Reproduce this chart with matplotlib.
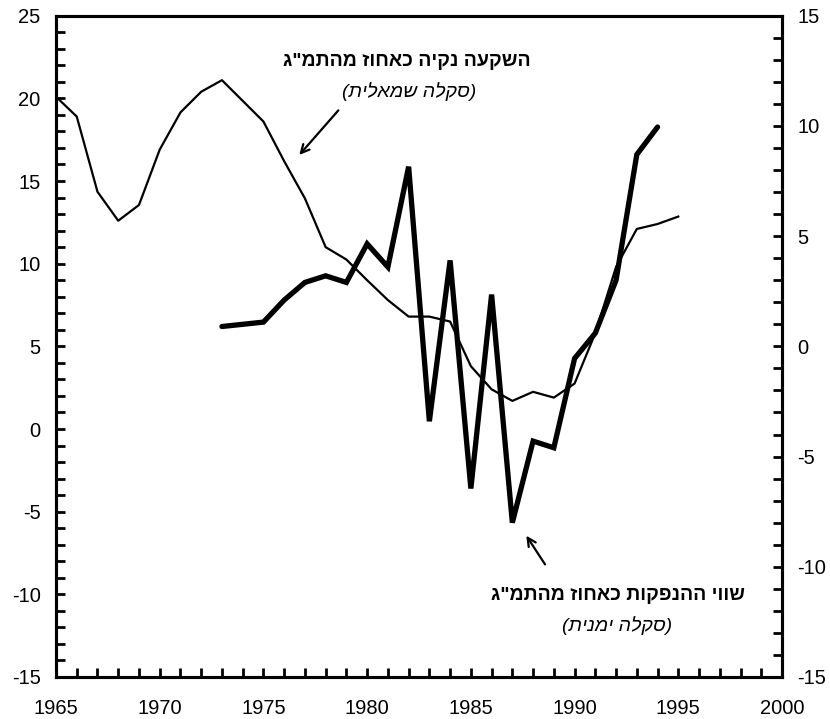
import matplotlib
matplotlib.use("Agg")
import matplotlib.pyplot as plt
from matplotlib.ticker import MultipleLocator

plt.rcParams['font.family'] = ['Liberation Sans', 'DejaVu Sans']
plt.rcParams['axes.unicode_minus'] = False

# Net investment as % of GDP (left scale)
inv_years = list(range(1965, 1996))
inv_values = [20.1, 18.9, 14.35, 12.6, 13.55, 16.9, 19.15, 20.4, 21.1, 19.85,
              18.6, 16.2, 13.95, 11.0, 10.25, 9.0, 7.8, 6.8, 6.8, 6.5,
              3.8, 2.4, 1.7, 2.25, 1.9, 2.75, 5.8, 9.8, 12.1, 12.4, 12.85]

# Value of issues as % of GDP (right scale)
iss_years = list(range(1973, 1995))
iss_values = [0.9, 1.0, 1.1, 2.1, 2.9, 3.2, 2.9, 4.65, 3.6, 8.15,
              -3.4, 3.9, -6.45, 2.35, -8.0, -4.3, -4.6, -0.55, 0.6, 3.0,
              8.7, 9.95]

label_inv = 'השקעה נקיה כאחוז מהתמ"ג'
label_inv_scale = '(סקלה שמאלית)'
label_iss = 'שווי ההנפקות כאחוז מהתמ"ג'
label_iss_scale = '(סקלה ימנית)'


def vis(s):
    """Convert logical-order Hebrew text to visual order for LTR rendering."""
    swap = {'(': ')', ')': '('}
    return ''.join(swap.get(c, c) for c in s[::-1])


fig = plt.figure(figsize=(8.3, 7.19), dpi=100)
ax = fig.add_axes([56/830, 42/719, 726/830, 661.3/719])
ax2 = ax.twinx()

ax.plot(inv_years, inv_values, color='black', lw=1.6, solid_joinstyle='round')
ax2.plot(iss_years, iss_values, color='black', lw=3.8, solid_joinstyle='miter',
         solid_capstyle='round')

ax.set_xlim(1965, 2000)
ax.set_ylim(-15, 25)
ax2.set_ylim(-15, 15)

ax.xaxis.set_major_locator(MultipleLocator(5))
ax.xaxis.set_minor_locator(MultipleLocator(1))
ax.yaxis.set_major_locator(MultipleLocator(5))
ax.yaxis.set_minor_locator(MultipleLocator(1))
ax2.yaxis.set_major_locator(MultipleLocator(5))
ax2.yaxis.set_minor_locator(MultipleLocator(1))

for a in (ax, ax2):
    for sp in a.spines.values():
        sp.set_linewidth(2.2)
    a.tick_params(which='both', direction='in', length=6.5, width=2, labelsize=14.5)

ax.tick_params(axis='x', which='both', top=False, pad=16)
ax.tick_params(axis='y', which='both', right=False, pad=11)
ax2.tick_params(axis='y', which='both', pad=11)
ax2.tick_params(axis='x', which='both', top=False, bottom=False)

# Annotations
ax.text(1987.9, 22.2, vis(label_inv), ha='right', va='center',
        fontsize=14, fontweight='bold')
ax.text(1982.0, 20.4, vis(label_inv_scale), ha='center', va='center',
        fontsize=14, style='italic')
ax.annotate('', xy=(1976.64, 16.45), xytext=(1978.7, 19.4),
            arrowprops=dict(arrowstyle='->,head_length=0.6,head_width=0.3',
                            color='black', lw=1.6))

ax.text(1992.1, -10.05, vis(label_iss), ha='center', va='center',
        fontsize=14, fontweight='bold')
ax.text(1992.07, -11.86, vis(label_iss_scale), ha='center', va='center',
        fontsize=14, style='italic')
ax.annotate('', xy=(1987.6, -6.31), xytext=(1988.65, -8.33),
            arrowprops=dict(arrowstyle='->,head_length=0.6,head_width=0.3',
                            color='black', lw=1.6))

fig.savefig('out.png', dpi=100)
